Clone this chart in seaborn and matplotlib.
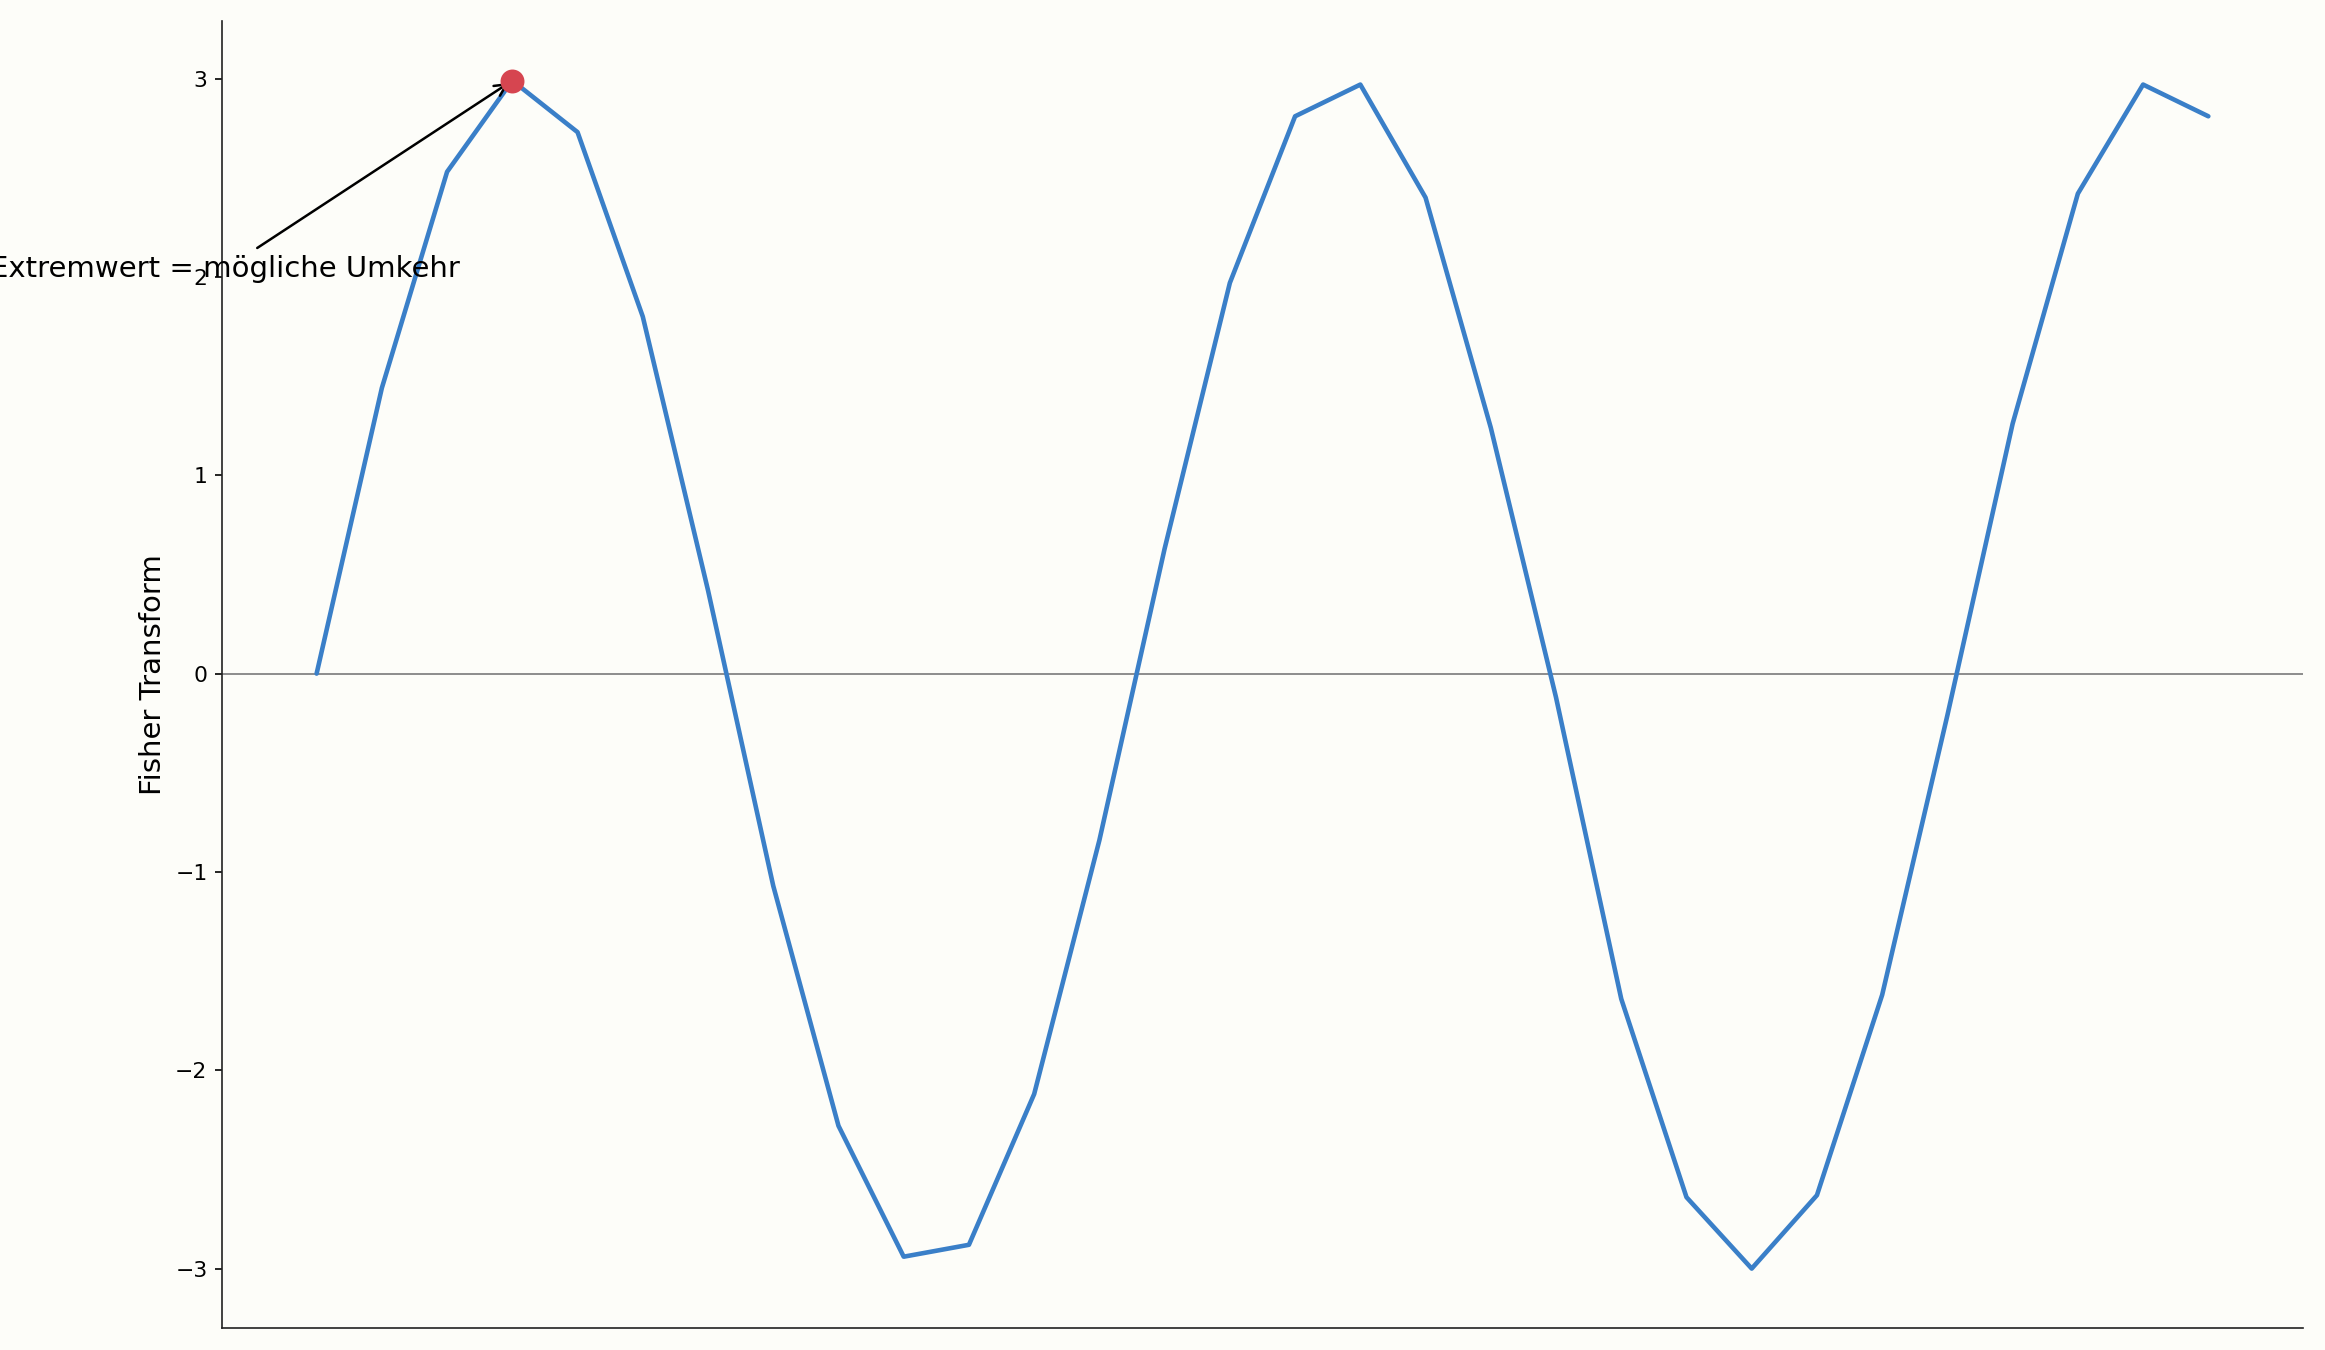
import numpy as np
import pandas as pd
import matplotlib
matplotlib.use("Agg")
import matplotlib.pyplot as plt
import seaborn as sns

# Fisher transform values
bars = list(range(30))
fisher = [0.00, 1.44, 2.53, 2.99, 2.73, 1.80, 0.42, -1.07, -2.28, -2.94,
          -2.88, -2.12, -0.84, 0.63, 1.97, 2.81, 2.97, 2.40, 1.24, -0.12,
          -1.64, -2.64, -3.00, -2.63, -1.62, -0.21, 1.26, 2.42, 2.97, 2.81]
peak_idx = 3
note = "Extremwert = mögliche Umkehr"

df = pd.DataFrame({"bar": bars, "fisher": fisher})

sns.set_style("ticks")
plt.rcParams.update({"text.color": "black", "axes.labelcolor": "black",
                     "xtick.color": "black", "ytick.color": "black",
                     "axes.edgecolor": "#222222"})
bg = "#fdfdf9"
fig = plt.figure(figsize=(15.5, 9), dpi=150, facecolor=bg)
ax = fig.add_axes([0.0955, 0.0163, 0.895, 0.968])
ax.set_facecolor(bg)

sns.lineplot(data=df, x="bar", y="fisher", ax=ax, color="#3a7fc8", linewidth=2.2)
ax.axhline(0, color="#888888", linewidth=0.9, zorder=0)

px, py = bars[peak_idx], fisher[peak_idx]
ax.scatter([px], [py], color="#d64550", s=110, zorder=5)
ax.annotate(note, xy=(px, py), xytext=(px - 4.4, 2.0), ha="center",
            fontsize=14, color="black",
            arrowprops=dict(arrowstyle="->", color="black", lw=1.2))

ax.set_xlabel("")
ax.set_ylabel("Fisher Transform", fontsize=14)
ax.set_xticks([])
ax.tick_params(axis="y", labelsize=10.5)
ax.set_yticks([-3, -2, -1, 0, 1, 2, 3])
sns.despine(ax=ax)

fig.savefig("out.png", dpi=150, facecolor=bg)
